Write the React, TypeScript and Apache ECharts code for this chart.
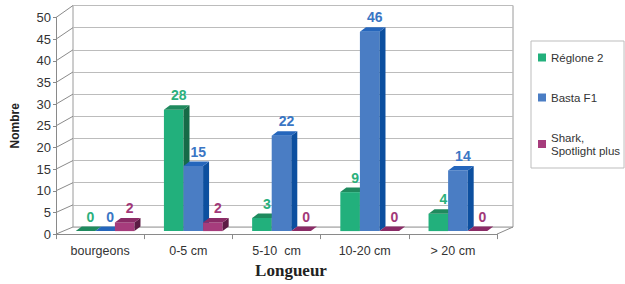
import React, { useEffect, useRef } from "react";
import * as echarts from "echarts";

const categories = ["bourgeons", "0-5 cm", "5-10  cm", "10-20 cm", "> 20 cm"];
const seriesNames = ["Réglone 2", "Basta F1", "Shark,\nSpotlight plus"];
const reglone = [0, 28, 3, 9, 4];
const basta = [0, 15, 22, 46, 14];
const shark = [2, 2, 0, 0, 0];
const yTicks = [0, 5, 10, 15, 20, 25, 30, 35, 40, 45, 50];

const FONT = "'Liberation Sans', Arial, Helvetica, sans-serif";

// colours: front, top, side, label
const palettes = [
  { front: "#22B07C", top: "#1F8A5E", side: "#166A47", label: "#2BB07C" },
  { front: "#4A7DC4", top: "#2566BC", side: "#0C4F9F", label: "#3A76C4" },
  { front: "#A63C7C", top: "#8A2B66", side: "#5C1B44", label: "#A23878" },
];

// layout (front plane and back wall)
const FRONT = { left: 56, top: 17.5, width: 441, height: 219.5 };
const BACK = { left: 73, top: 5.5, width: 440, height: 221.5 };
const BAR_OFF = { x: 5, y: -3 };
const DEPTH = { x: 6, y: -4.5 };

export default function App() {
  const ref = useRef<HTMLDivElement>(null);

  useEffect(() => {
    if (!ref.current) return;
    const chart = echarts.init(ref.current, undefined, { renderer: "svg" });
    const values = [reglone, basta, shark];

    const barSeries = values.map((vals, s) => ({
      type: "custom",
      name: seriesNames[s],
      xAxisIndex: 0,
      yAxisIndex: 0,
      z: 3 + s,
      itemStyle: { color: palettes[s].front },
      data: vals.map((v, i) => [i, v]),
      renderItem: (params: any, api: any) => {
        const cat = api.value(0);
        const val = api.value(1);
        const base = api.coord([cat, 0]);
        const top = api.coord([cat, val]);
        const band = api.size([1, 0])[0];
        const barW = band * 0.222;
        const x0 = base[0] - 1.5 * barW + s * barW + BAR_OFF.x;
        const yB = base[1] + BAR_OFF.y;
        const yT = top[1] + BAR_OFF.y;
        const p = palettes[s];
        const children: any[] = [];
        if (yB - yT > 0.01) {
          children.push({
            type: "rect",
            shape: { x: x0, y: yT, width: barW, height: yB - yT },
            style: { fill: p.front },
          });
          children.push({
            type: "polygon",
            shape: {
              points: [
                [x0 + barW, yT],
                [x0 + barW + DEPTH.x, yT + DEPTH.y],
                [x0 + barW + DEPTH.x, yB + DEPTH.y],
                [x0 + barW, yB],
              ],
            },
            style: { fill: p.side },
          });
        }
        children.push({
          type: "polygon",
          shape: {
            points: [
              [x0, yT],
              [x0 + barW, yT],
              [x0 + barW + DEPTH.x, yT + DEPTH.y],
              [x0 + DEPTH.x, yT + DEPTH.y],
            ],
          },
          style: { fill: p.top },
        });
        children.push({
          type: "text",
          style: {
            text: String(val),
            x: x0 + (barW + DEPTH.x) / 2 + 2,
            y: yT + DEPTH.y - 3,
            align: "center",
            verticalAlign: "bottom",
            fill: p.label,
            font: `bold 14px ${FONT}`,
          },
        });
        return { type: "group", children };
      },
    }));

    const frameSeries = {
      type: "custom",
      name: "frame",
      xAxisIndex: 0,
      yAxisIndex: 0,
      z: 1,
      silent: true,
      data: yTicks.map((v) => [0, v]),
      renderItem: (params: any, api: any) => {
        const v = api.value(1);
        const cs = params.coordSys;
        const front = api.coord([0, v]);
        const yBack = BACK.top + BACK.height * (1 - v / yTicks[yTicks.length - 1]);
        const children: any[] = [
          {
            type: "line",
            shape: { x1: cs.x, y1: front[1], x2: BACK.left, y2: yBack },
            style: { stroke: "#8a8a8a", lineWidth: 1 },
          },
        ];
        if (v === 0) {
          children.push({
            type: "line",
            shape: {
              x1: cs.x + cs.width,
              y1: front[1],
              x2: BACK.left + BACK.width,
              y2: yBack,
            },
            style: { stroke: "#8a8a8a", lineWidth: 1 },
          });
        }
        return { type: "group", children };
      },
    };

    chart.setOption({
      animation: false,
      textStyle: { fontFamily: FONT },
      grid: [
        { ...FRONT, containLabel: false },
        {
          ...BACK,
          show: true,
          borderColor: "#9a9a9a",
          borderWidth: 1,
          backgroundColor: "#ffffff",
        },
      ],
      legend: {
        data: seriesNames,
        orient: "vertical",
        left: 531,
        top: 41,
        padding: [10, 4, 11, 7],
        itemGap: 27,
        itemWidth: 8,
        itemHeight: 8,
        icon: "rect",
        backgroundColor: "#ffffff",
        borderColor: "#bdbdbd",
        borderWidth: 1,
        textStyle: { fontSize: 11.5, color: "#333", fontFamily: FONT, lineHeight: 13 },
      },
      xAxis: [
        {
          type: "category",
          gridIndex: 0,
          data: categories,
          boundaryGap: true,
          axisLine: { show: true, lineStyle: { color: "#8a8a8a" } },
          axisTick: { show: true, length: 5, lineStyle: { color: "#8a8a8a" } },
          axisLabel: { color: "#333", fontSize: 12.5, margin: 10, fontFamily: FONT },
          name: "Longueur",
          nameLocation: "middle",
          nameGap: 27,
          nameTextStyle: {
            fontFamily: "'Liberation Serif', 'Times New Roman', serif",
            fontWeight: "bold",
            fontSize: 17,
            color: "#222",
            padding: [0, 0, 0, 29],
          },
          splitLine: { show: false },
        },
        {
          type: "category",
          gridIndex: 1,
          data: categories,
          show: false,
        },
      ],
      yAxis: [
        {
          type: "value",
          gridIndex: 0,
          min: 0,
          max: 50,
          interval: 5,
          axisLine: { show: true, lineStyle: { color: "#8a8a8a" } },
          axisTick: { show: true, length: 3, lineStyle: { color: "#8a8a8a" } },
          axisLabel: { color: "#333", fontSize: 13, margin: 5, fontFamily: FONT },
          splitLine: { show: false },
          name: "Nombre",
          nameLocation: "middle",
          nameRotate: 90,
          nameGap: 35,
          nameTextStyle: { fontWeight: "bold", fontSize: 12, color: "#222", fontFamily: FONT },
        },
        {
          type: "value",
          gridIndex: 1,
          min: 0,
          max: 50,
          interval: 5,
          axisLine: { show: false },
          axisTick: { show: false },
          axisLabel: { show: false },
          splitLine: { show: true, lineStyle: { color: "#bcbcbc", width: 1 } },
        },
      ],
      series: [frameSeries, ...barSeries],
    });

    return () => chart.dispose();
  }, []);

  return (
    <div
      ref={ref}
      style={{ position: "absolute", left: 0, top: 0, width: 625, height: 284, background: "#fff" }}
    />
  );
}
